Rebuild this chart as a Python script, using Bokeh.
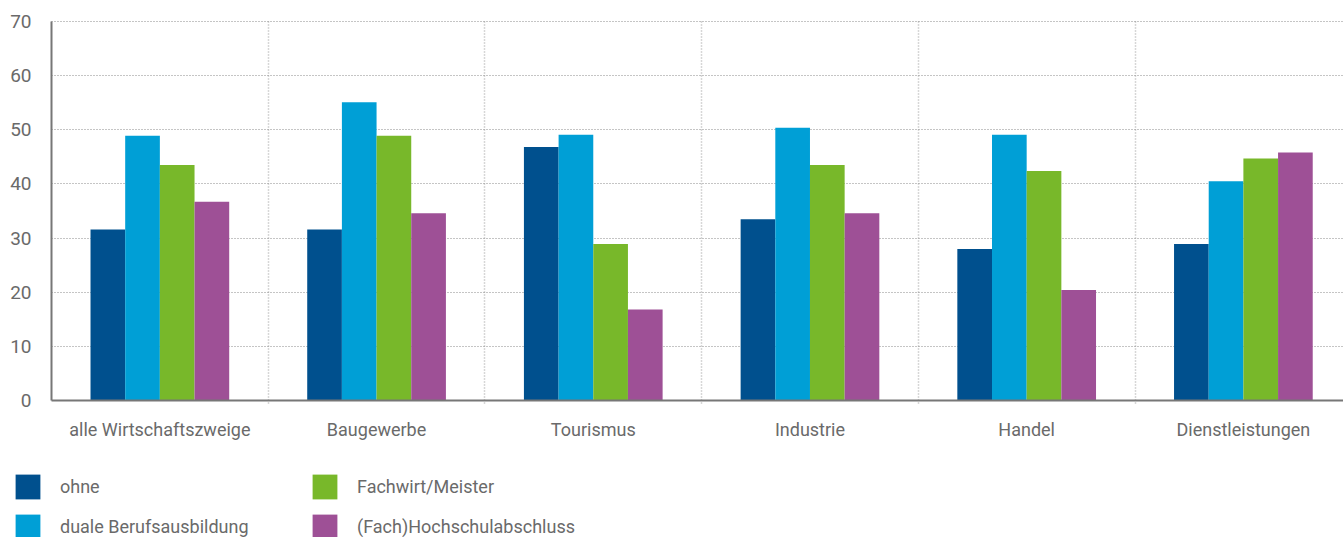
from bokeh.plotting import figure
from bokeh.models import ColumnDataSource, Range1d, FixedTicker, Legend, LegendItem
from bokeh.transform import dodge
from bokeh.embed import file_html
from bokeh.resources import INLINE

# Branchen (Kategorien) und Anteile je Qualifikationsniveau, in %
kategorien = ["alle Wirtschaftszweige", "Baugewerbe", "Tourismus",
              "Industrie", "Handel", "Dienstleistungen"]
ohne = [31.6, 31.6, 46.8, 33.5, 28.0, 28.9]
duale = [48.9, 55.1, 49.1, 50.4, 49.1, 40.5]
fachwirt = [43.5, 48.9, 28.9, 43.5, 42.4, 44.7]
hochschule = [36.7, 34.6, 16.8, 34.6, 20.4, 45.8]

serien = ["ohne", "duale Berufsausbildung", "Fachwirt/Meister", "(Fach)Hochschulabschluss"]
farben = ["#00508e", "#009fd6", "#78b82a", "#9e5096"]
y_ticks = [0, 10, 20, 30, 40, 50, 60, 70]

FONT = "Roboto"
TEXT = "#6a6a6a"

pos = [i + 0.5 for i in range(len(kategorien))]
source = ColumnDataSource(dict(x=pos, ohne=ohne, duale=duale,
                               fachwirt=fachwirt, hochschule=hochschule))

# Die Zeichenfläche deckt das ganze Bild ab; Achsen liegen fest bei x=0 bzw. y=0,
# darunter bleibt Platz für die Legende.
X_END = 5.962
p = figure(width=1343, height=537,
           x_range=Range1d(-0.2354, X_END), y_range=Range1d(-25.30, 73.88),
           output_backend="svg", toolbar_location=None,
           min_border_left=0, min_border_right=0,
           min_border_top=0, min_border_bottom=0)
p.outline_line_color = None
p.background_fill_color = "white"

bar_w = 0.16
offsets = [-1.5 * bar_w, -0.5 * bar_w, 0.5 * bar_w, 1.5 * bar_w]
spalten = ["ohne", "duale", "fachwirt", "hochschule"]
renderers = []
for col, off, farbe in zip(spalten, offsets, farben):
    r = p.vbar(x=dodge("x", off), top=col, width=bar_w, bottom=0,
               source=source, fill_color=farbe, line_color=None)
    renderers.append(r)

# Achsen
p.xaxis.fixed_location = 0
p.xaxis.bounds = (0, X_END)
p.xaxis.ticker = FixedTicker(ticks=pos)
p.xaxis.major_label_overrides = {x: k for x, k in zip(pos, kategorien)}
p.yaxis.fixed_location = 0
p.yaxis.bounds = (0, 70)
p.yaxis.ticker = FixedTicker(ticks=y_ticks)
for ax in (p.xaxis[0], p.yaxis[0]):
    ax.axis_line_color = "#777777"
    ax.axis_line_width = 2
    ax.major_tick_line_color = None
    ax.minor_tick_line_color = None
    ax.major_label_text_font = FONT
    ax.major_label_text_color = TEXT
p.xaxis.major_label_text_font_size = "18px"
p.xaxis.major_label_standoff = 12
p.yaxis.major_label_text_font_size = "19px"
p.yaxis.major_label_standoff = 14

# Gitter
p.ygrid.ticker = FixedTicker(ticks=y_ticks[1:])
p.ygrid.cross_bounds = (0, X_END)
p.ygrid.grid_line_color = "#8a8a8a"
p.ygrid.grid_line_dash = "1 2"
p.ygrid.grid_line_width = 1
p.xgrid.ticker = FixedTicker(ticks=[1, 2, 3, 4, 5])
p.xgrid.cross_bounds = (-0.5, 70)
p.xgrid.grid_line_color = "#b0b0b0"
p.xgrid.grid_line_dash = "1 2"
p.xgrid.grid_line_width = 1.5

# Legende unter dem Diagramm, zweispaltig
legend = Legend(items=[LegendItem(label=s, renderers=[r]) for s, r in zip(serien, renderers)],
                ncols=2, location=(12, -5),
                glyph_width=31, glyph_height=31, label_standoff=17,
                label_width=240, label_height=31, spacing=9,
                padding=0, margin=0,
                label_text_font=FONT, label_text_font_size="18px",
                label_text_color=TEXT, label_text_baseline="middle",
                background_fill_alpha=0, border_line_alpha=0)
p.add_layout(legend, "center")

open("out.html", "w").write(file_html(p, INLINE))
